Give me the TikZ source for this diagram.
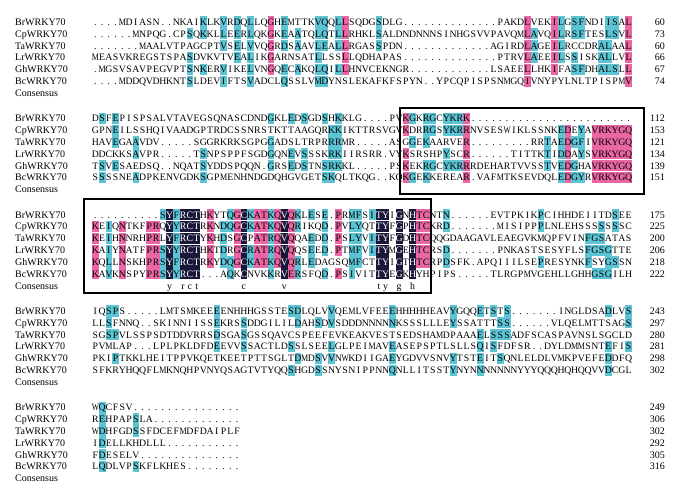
\documentclass[tikz,border=0pt]{standalone}
\usepackage{fontspec}
\setmainfont{Liberation Serif}

\definecolor{hlcyan}{RGB}{92,196,212}
\definecolor{hlpink}{RGB}{234,102,164}
\definecolor{hldark}{RGB}{26,24,58}

% layout of the alignment (px of the figure)
\newcommand\alnleft{92}     % left edge of column 1
\newcommand\alncolw{6.75}   % one column
\newcommand\alnrowh{11.85}  % one row
\newcommand\alnblockh{96.3} % one block
\newcommand\alnname{15}
\newcommand\alnnum{665}

\tikzset{
  residue/.style={inner sep=0pt, anchor=base, font=\fontsize{9.8}{10}\selectfont},
  seqname/.style={inner sep=0pt, anchor=base west, font=\fontsize{10}{12}\selectfont},
  seqnum/.style={inner sep=0pt, anchor=base east, font=\fontsize{10}{12}\selectfont},
  motifbox/.style={draw=black, line width=1.8pt},
}

\newcommand\AlnGlyph[1]{\if M#1\scalebox{0.82}[1]{M}\else\if W#1\scalebox{0.78}[1]{W}\else#1\fi\fi}

% one residue: column, row, level (0 none, 1 cyan, 2 pink, 3 dark), letter, top of block
\newcommand\AlnCell[5]{%
  \pgfmathsetmacro\cellx{\alnleft+(#1-1)*\alncolw}%
  \pgfmathsetmacro\celly{#5+(#2-1)*\alnrowh}%
  \ifcase#3\relax
  \or\fill[hlcyan] (\cellx,\celly-5.6) rectangle ++(\alncolw,11.2);%
  \or\fill[hlpink] (\cellx,\celly-5.6) rectangle ++(\alncolw,11.2);%
  \or\fill[hldark] (\cellx,\celly-5.6) rectangle ++(\alncolw,11.2);%
  \fi
  \ifnum#3=3 \def\celltext{white}\else\def\celltext{black}\fi
  \node[residue,text=\celltext] at (\cellx+\alncolw/2,\celly+3.4) {\AlnGlyph{#4}};%
}
% consensus letter
\newcommand\AlnCons[3]{%
  \pgfmathsetmacro\cellx{\alnleft+(#1-0.5)*\alncolw}%
  \pgfmathsetmacro\celly{#3+6*\alnrowh+3.4}%
  \node[residue] at (\cellx,\celly) {\lowercase{#2}};%
}

\ExplSyntaxOn
\int_step_inline:nn {6} { \str_new:c { l_aln_seq_#1_str } }
\int_new:N \l_aln_best_int
\int_new:N \l_aln_cnt_int
\int_new:N \l_aln_level_int
\int_new:N \l_aln_cell_int
\tl_new:N \l_aln_best_tl
\tl_new:N \l_aln_char_tl

% similar residues
\cs_new:Npn \aln_group:n #1
  {
    \str_case:nnF {#1}
      {
        {I}{L} {L}{L} {V}{L} {M}{L}
        {K}{K} {R}{K}
        {D}{D} {E}{D} {N}{D} {Q}{D}
        {F}{F} {Y}{F}
      }
      {#1}
  }
\cs_generate_variant:Nn \aln_group:n { V }

\cs_new_protected:Npn \aln_column:nn #1#2
  {
    \int_zero:N \l_aln_best_int
    \tl_clear:N \l_aln_best_tl
    \int_step_inline:nn {6}
      {
        \tl_set:Nx \l_aln_char_tl { \str_item:cn { l_aln_seq_##1_str } {#1} }
        \str_if_eq:VnF \l_aln_char_tl { . }
          {
            \int_zero:N \l_aln_cnt_int
            \int_step_inline:nn {6}
              {
                \str_if_eq:eeT { \str_item:cn { l_aln_seq_####1_str } {#1} } { \l_aln_char_tl }
                  { \int_incr:N \l_aln_cnt_int }
              }
            \int_compare:nNnT \l_aln_cnt_int > \l_aln_best_int
              {
                \int_set_eq:NN \l_aln_best_int \l_aln_cnt_int
                \tl_set_eq:NN \l_aln_best_tl \l_aln_char_tl
              }
          }
      }
    \int_set:Nn \l_aln_level_int
      {
        \int_compare:nNnTF \l_aln_best_int = 6 { 3 }
          {
            \int_compare:nNnTF \l_aln_best_int > 4 { 2 }
              { \int_compare:nNnTF \l_aln_best_int > 2 { 1 } { 0 } }
          }
      }
    \int_step_inline:nn {6}
      {
        \tl_set:Nx \l_aln_char_tl { \str_item:cn { l_aln_seq_##1_str } {#1} }
        \int_zero:N \l_aln_cell_int
        \int_compare:nNnT \l_aln_level_int > 0
          {
            \str_if_eq:eeT { \aln_group:V \l_aln_char_tl } { \aln_group:V \l_aln_best_tl }
              { \int_set_eq:NN \l_aln_cell_int \l_aln_level_int }
          }
        \use:x { \exp_not:N \AlnCell {#1} {##1} { \int_use:N \l_aln_cell_int } { \l_aln_char_tl } {#2} }
      }
    \int_compare:nNnT \l_aln_level_int = 3
      { \use:x { \exp_not:N \AlnCons {#1} { \l_aln_best_tl } {#2} } }
  }

% top, columns, six sequences
\NewDocumentCommand \AlnBlock { m m m m m m m m }
  {
    \str_set:cn { l_aln_seq_1_str } {#3}
    \str_set:cn { l_aln_seq_2_str } {#4}
    \str_set:cn { l_aln_seq_3_str } {#5}
    \str_set:cn { l_aln_seq_4_str } {#6}
    \str_set:cn { l_aln_seq_5_str } {#7}
    \str_set:cn { l_aln_seq_6_str } {#8}
    \int_step_inline:nn {#2} { \aln_column:nn {##1} {#1} }
  }
\ExplSyntaxOff

\begin{document}
\begin{tikzpicture}[x=1pt, y=-1pt]
  \useasboundingbox (0,0) rectangle (682,491);

  % names, numbers
  \foreach \b/\nums in {1/{60,73,60,66,67,74},2/{112,153,121,134,139,151},3/{175,225,200,206,218,222},4/{243,297,280,281,298,302},5/{249,306,302,292,305,316}}{
    \pgfmathsetmacro\blocktop{22+(\b-1)*\alnblockh}
    \foreach \nm [count=\r] in {BrWRKY70,CpWRKY70,TaWRKY70,LrWRKY70,GhWRKY70,BcWRKY70}{
      \node[seqname] (name-\b-\r) at ({\alnname},{\blocktop+(\r-1)*\alnrowh+3.4}) {\nm};
    }
    \node[seqname] (cons-\b) at ({\alnname},{\blocktop+6*\alnrowh+3.4}) {Consensus};
    \foreach \n [count=\r] in \nums{
      \node[seqnum] (num-\b-\r) at ({\alnnum},{\blocktop+(\r-1)*\alnrowh+3.4}) {\n};
    }
  }

  % Block 1
  \AlnBlock{22}{80}
    {....MDIASN..NKAIKLKVRDQLLQGHEMTTKVQQLLSQDGSDLG..............PAKDLVEKILGSFNDIISAL}
    {......MNPQG.CPSQKKLLEERLQKGKEAATQLQTLLRHKLSALDNDNNNSINHGSVVPAVQMLAVQILRSFTESLSVL}
    {.......MAALVTPAGCPTVSELVVQGRDSAAVLEALLRGASSPDN.............AGIRDLAGEILRCCDRALAAL}
    {MEASVKREGSTSPASDVKVTVEALIKGARNSATLLSSLLQDHAPAS..............PTRVLAEEILSSISKALLVL}
    {.MGSVSAVPEGVPTSNKERVIKELVNGQECAKQLQILLHNVCEKNGR............LSAEELLHKIFASFDHALSLL}
    {....MDDQVDHKNTSLDEVIFTSVADCLQSSLVMDYNSLEKAFKFSPYN..YPCQPISPSNMGQIVNYPYLNLTPISPMV}

  % Block 2
  \AlnBlock{118.3}{80}
    {DSFEPISPSALVTAVEGSQNASCDNDGKLEDSGDSHKKLG....PVKGKRGCYKRK........................}
    {GPNEILSSHQIVAADGPTRDCSSNRSTKTTAAGQRKKIKTTRSVGVKDRRGSYKRRNVSESWIKLSSNKEDEYAVRKYGQ}
    {HAVEGAAVDV.....SGGRKRKSGPGGADSLTRPRRRMR.....ASGGEKAARVER.........RRTAEDGFIVRKYGQ}
    {DDCKKSAVPR.....TSNPSPPFSGDGQNEVSSSKRKIIRSRR.VYKSRSHPYSCR......TITTKTIDDAYSVRKYGQ}
    {TSVESAEDSQ..NQATSYDDSPQQN.GRSEDSTNSRKKL.....PSKEKRGCYKRRRDEHARTVVSSTVEDGHAVRKYGQ}
    {SSSSNEADPKENVGDKSGPMENHNDGDQHGVGETSKQLTKQG..KQKGEKKEREAR.VAFMTKSEVDQLEDGYRVRKYGQ}

  % Block 3
  \AlnBlock{214.6}{80}
    {..........SYFRCTHKYTQGCKATKQVQKLESE.PRMFSITYIGNHTCNTN......EVTPKIKPCIHHDEIITDSEE}
    {KEIQNTKFPRQYYRCTRKNDQGCKATKQVQRIKQD.PVLYQTTYFGPHTCKRD.......MISIPPPLNLEHSSSSSSSC}
    {KEIHNNRHPRLYFRCTYKHDSGCPATRQVQQAEDD.PSLYVITYFGDHTCQQGDAAGAVLEAEGVKMQPFVINFGSATAS}
    {KAIYNATFPRSYYRCTHKTDRGCRATRQVQQSEED.PTMFVITYMGEHTCRSD.......PNKASTSESYFLSFGSGTTE}
    {KQLLNSKHPRSYFRCTRKYDQGCKATKQVQRLEDAGSQMFCTTYIGTHTCRPDSFK.APQIIILSEPRESYNKFSYGSSN}
    {KAVKNSPYPRSYYRCT...AQKCNVKKRVERSFQD.PSIVITTYEGKHYHPIPS.....TLRGPMVGEHLLGHHGSGILH}

  % Block 4
  \AlnBlock{310.9}{80}
    {IQSPS.....LMTSMKEEEENHHHGSSTESDLQLVVQEMLVFEEEHHHHHEAVYGQQETSTS.......INGLDSADLVS}
    {LLSFNNQ..SKINNIISSEKRSSDDGILILDAHSDVSDDDNNNNNKSSSLLLEYSSATTTSS......VLQELMTTSAGS}
    {SGSPVLSSPSDTDDVRRSDSGASGSSQAVCSPEEFEVKEAKVESTSEDSHAMDPAAAELSSSADFSCASPAVNSLSGCLD}
    {PVMLAP...LPLPKLDFDEEVVSSACTLDSSLSEELGLPEIMAVEASEPSPTLSLLSQISFDFSR..DYLDMMSNTEFIS}
    {PKIPTKKLHEITPPVKQETKEETPTTSGLTDMDSVVNWKDIIGAEYGDVVSNVYTSTEITSQNLELDLVMKPVEFEDDFQ}
    {SFKRYHQQFLMKNQHPVNYQSAGTVTYQQSHGDSSNYSNIPPNNQNLLITSSTYNYNNNNNNNYYYQQQHQHQQVVDCGL}

  % Block 5
  \AlnBlock{407.2}{22}
    {WQCFSV................}
    {REHPAPSLA.............}
    {WDHFGDSSFDCEFMDFDAIPLF}
    {IDELLKHDLLL...........}
    {FDESELV...............}
    {LQDLVPSKFLKHES........}

  % boxed regions
  \draw[motifbox] (400,108) rectangle (644,194);
  \draw[motifbox] (84,199) rectangle (431,293);
\end{tikzpicture}
\end{document}
